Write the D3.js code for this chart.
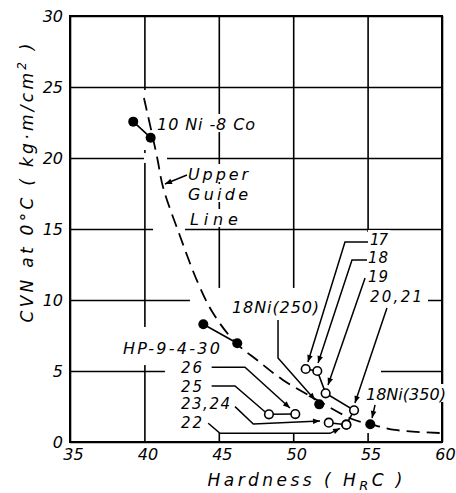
<!DOCTYPE html>
<html>
<head>
<meta charset="utf-8">
<script src="https://cdn.jsdelivr.net/npm/d3@7"></script>
<style>
  body { margin: 0; background: #fff; }
  text { font-family: "DejaVu Sans", sans-serif; font-style: italic; fill: #000; }
</style>
</head>
<body>
<svg id="chart" width="456" height="493"></svg>
<script>
// axis ticks
const xTicks = [35, 40, 45, 50, 55, 60];
const yTicks = [0, 5, 10, 15, 20, 25, 30];

// filled symbols [hardness HRC, CVN kg.m/cm2]
const tenNi = [[39.25, 22.56], [40.42, 21.43]];
const hp9430 = [[43.96, 8.29], [46.24, 6.95]];
const ni250 = [[51.75, 2.65]];
const ni350 = [[55.18, 1.25]];

// open symbols
const seriesA = [[50.84, 5.14], [51.62, 5.00], [52.18, 3.43], [54.09, 2.23], [53.57, 1.22]]; // 17,18,19,20-21,22
const seriesB = [[52.39, 1.36], [53.57, 1.22]]; // 23,24
const seriesC = [[48.37, 1.95], [50.14, 1.97]]; // 25,26

// upper guide line
const guideLine = [[39.97, 24.23], [40.85, 20.07], [41.25, 17.96], [42.39, 14.51], [43.60, 11.20],
  [44.61, 9.08], [46.09, 7.04], [47.57, 5.77], [49.31, 4.37], [51.60, 2.96], [53.95, 1.62],
  [55.16, 1.27], [56.84, 0.85], [59.93, 0.63]];

// labels (position in data units, width in px)
const labels = [
  {t: "10 Ni -8 Co", at: [40.85, 21.97], w: 98, fs: 16},
  {t: "Upper", at: [42.93, 18.45], w: 60, fs: 16},
  {t: "Guide", at: [42.93, 17.04], w: 60, fs: 16},
  {t: "Line", at: [43.06, 15.28], w: 48, fs: 16},
  {t: "HP-9-4-30", at: [38.56, 6.20], w: 97, fs: 16},
  {t: "26", at: [42.46, 4.86], w: 21, fs: 15},
  {t: "25", at: [42.46, 3.52], w: 21, fs: 15},
  {t: "23,24", at: [42.46, 2.29], w: 49, fs: 15},
  {t: "22", at: [42.46, 0.99], w: 21, fs: 15},
  {t: "18Ni(250)", at: [45.89, 9.08], w: 87, fs: 16},
  {t: "17", at: [55.16, 13.87], w: 18, fs: 15},
  {t: "18", at: [55.03, 12.61], w: 20, fs: 15},
  {t: "19", at: [55.03, 11.27], w: 20, fs: 15},
  {t: "20,21", at: [55.16, 9.86], w: 52, fs: 15},
  {t: "18Ni(350)", at: [54.89, 2.96], w: 80, fs: 16}
];

const leaders = [
  {pts: [[55.03, 14.08], [53.48, 14.08], [50.99, 5.63]], arrow: true},
  {pts: [[54.96, 12.82], [53.95, 12.82], [51.67, 5.56]], arrow: true},
  {pts: [[54.83, 11.55], [52.34, 4.01]], arrow: true},
  {pts: [[56.30, 9.44], [54.15, 2.75]], arrow: true},
  {pts: [[48.98, 8.59], [48.98, 5.92], [51.47, 2.96]], arrow: true},
  {pts: [[55.50, 2.61], [55.30, 1.69]], arrow: true},
  {pts: [[44.52, 5.26], [46.76, 5.26], [49.78, 2.39]], arrow: true},
  {pts: [[44.52, 3.94], [46.09, 3.94], [48.10, 2.13]], arrow: false},
  {pts: [[46.09, 2.49], [47.32, 1.27], [51.80, 1.48]], arrow: true},
  {pts: [[44.29, 1.32], [45.08, 0.61], [52.47, 0.61], [53.15, 0.96]], arrow: true},
  {pts: [[42.86, 18.80], [41.38, 18.17]], arrow: true}
];

// areas where the grid is broken in the original print [h0, v0, h1, v1]
const blanks = [
  [43.06, 10.85, 59.06, 5.77],
  [53.48, 14.79, 59.06, 10.85],
  [41.38, 5.77, 55.90, 0.63],
  [39.57, 8.10, 40.38, 5.42],
  [39.64, 24.79, 40.31, 20.56],
  [39.97, 20.35, 41.52, 19.65],
  [40.58, 15.35, 42.73, 14.65]
];

const margin = {top: 16, right: 14, bottom: 51, left: 70};
const width = 456 - margin.left - margin.right;
const height = 493 - margin.top - margin.bottom;

const svg = d3.select("#chart");
const x = d3.scaleLinear().domain([35, 60]).range([margin.left, margin.left + width]);
const y = d3.scaleLinear().domain([0, 30]).range([margin.top + height, margin.top]);

const defs = svg.append("defs");
defs.append("marker")
  .attr("id", "ah")
  .attr("viewBox", "0 0 10 10")
  .attr("refX", 10).attr("refY", 5)
  .attr("markerWidth", 8).attr("markerHeight", 7)
  .attr("markerUnits", "userSpaceOnUse")
  .attr("orient", "auto")
  .append("path").attr("d", "M0,1 L10,5 L0,9 z").attr("fill", "#000");

// grid
svg.append("g")
  .attr("transform", "translate(0," + (margin.top + height) + ")")
  .call(d3.axisBottom(x).tickValues(xTicks).tickSize(-height).tickFormat(""))
  .call(g => g.select(".domain").remove())
  .selectAll("line").attr("stroke", "#000").attr("stroke-width", 1.6);

svg.append("g")
  .attr("transform", "translate(" + margin.left + ",0)")
  .call(d3.axisLeft(y).tickValues(yTicks).tickSize(-width).tickFormat(""))
  .call(g => g.select(".domain").remove())
  .selectAll("line").attr("stroke", "#000").attr("stroke-width", 1.6);

svg.append("rect")
  .attr("x", margin.left).attr("y", margin.top)
  .attr("width", width).attr("height", height)
  .attr("fill", "none").attr("stroke", "#000").attr("stroke-width", 2);

// tick labels
svg.append("g")
  .attr("transform", "translate(0," + (margin.top + height) + ")")
  .call(d3.axisBottom(x).tickValues(xTicks).tickSize(0).tickPadding(7))
  .call(g => g.select(".domain").remove())
  .selectAll("text").attr("font-size", 16).attr("dx", 3).attr("font-family", null);

svg.append("g")
  .attr("transform", "translate(" + margin.left + ",0)")
  .call(d3.axisLeft(y).tickValues(yTicks).tickSize(0).tickPadding(7))
  .call(g => g.select(".domain").remove())
  .selectAll("text").attr("font-size", 16).attr("font-family", null);

// blank areas
svg.append("g").selectAll("rect")
  .data(blanks).enter().append("rect")
  .attr("x", d => x(d[0])).attr("y", d => y(d[1]))
  .attr("width", d => x(d[2]) - x(d[0])).attr("height", d => y(d[3]) - y(d[1]))
  .attr("fill", "#fff");

const bgLayer = svg.append("g");

// guide line
const line = d3.line().x(d => x(d[0])).y(d => y(d[1]));
svg.append("path")
  .attr("d", line.curve(d3.curveCatmullRom)(guideLine))
  .attr("fill", "none").attr("stroke", "#000")
  .attr("stroke-width", 1.8).attr("stroke-dasharray", "13,7");

// leaders
const straight = d3.line().x(d => x(d[0])).y(d => y(d[1]));
svg.append("g").selectAll("path")
  .data(leaders).enter().append("path")
  .attr("d", d => straight(d.pts))
  .attr("fill", "none").attr("stroke", "#000").attr("stroke-width", 1.5)
  .attr("marker-end", d => d.arrow ? "url(#ah)" : null);

// connecting lines
[tenNi, hp9430, seriesA, seriesB, seriesC].forEach(s => {
  svg.append("path").attr("d", straight(s))
    .attr("fill", "none").attr("stroke", "#000").attr("stroke-width", 1.6);
});

// points
svg.append("g").selectAll("circle")
  .data(seriesA.concat(seriesB, seriesC)).enter().append("circle")
  .attr("cx", d => x(d[0])).attr("cy", d => y(d[1])).attr("r", 4.3)
  .attr("fill", "#fff").attr("stroke", "#000").attr("stroke-width", 1.6);

svg.append("g").selectAll("circle")
  .data(tenNi.concat(hp9430, ni250, ni350)).enter().append("circle")
  .attr("cx", d => x(d[0])).attr("cy", d => y(d[1])).attr("r", 5)
  .attr("fill", "#000");

// labels
const txt = svg.append("g").selectAll("text")
  .data(labels).enter().append("text")
  .attr("x", d => x(d.at[0])).attr("y", d => y(d.at[1]))
  .attr("font-size", d => d.fs)
  .attr("textLength", d => d.w).attr("lengthAdjust", "spacing")
  .text(d => d.t);

txt.each(function(d) {
  const b = this.getBBox();
  const base = y(d.at[1]);
  bgLayer.append("rect")
    .attr("x", b.x - 2).attr("y", b.y - 1)
    .attr("width", b.width + 4).attr("height", base + 2 - (b.y - 1))
    .attr("fill", "#fff");
});

// axis titles
const xt = svg.append("text")
  .attr("x", 305).attr("y", 486)
  .attr("text-anchor", "middle").attr("font-size", 17)
  .attr("textLength", 195).attr("lengthAdjust", "spacing");
xt.append("tspan").text("Hardness ( H");
xt.append("tspan").attr("dy", 4).attr("font-size", 13).text("R");
xt.append("tspan").attr("dy", -4).text("C )");

const yt = svg.append("text")
  .attr("transform", "translate(33,183) rotate(-90)")
  .attr("text-anchor", "middle").attr("font-size", 17)
  .attr("textLength", 279).attr("lengthAdjust", "spacing");
yt.append("tspan").text("CVN at 0°C ( kg·m/cm");
yt.append("tspan").attr("dy", -7).attr("font-size", 12).text("2");
yt.append("tspan").attr("dy", 7).text(" )");
</script>
</body>
</html>
